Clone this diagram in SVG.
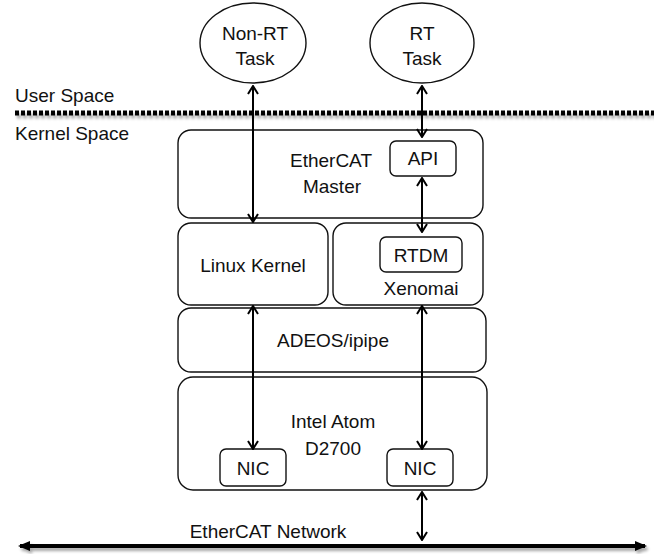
<svg xmlns="http://www.w3.org/2000/svg" width="654" height="554" viewBox="0 0 654 554">
<style>
.box{fill:#fff;stroke:#111;stroke-width:1.4}
.t{font-family:"Liberation Sans",Arial,sans-serif;font-size:19px;fill:#111;text-anchor:middle}
.tl{font-family:"Liberation Sans",Arial,sans-serif;font-size:19px;fill:#111}
.ar{stroke:#000;stroke-width:2;fill:none;marker-start:url(#oa);marker-end:url(#oa)}
</style>
<defs>
<marker id="oa" viewBox="0 0 12 12" refX="11" refY="6" markerWidth="12" markerHeight="12" markerUnits="userSpaceOnUse" orient="auto-start-reverse">
<path d="M3,1 L11,6 L3,11" fill="none" stroke="#000" stroke-width="2"/>
</marker>
<marker id="fa" viewBox="0 0 12 12" refX="10" refY="6" markerWidth="12" markerHeight="12" markerUnits="userSpaceOnUse" orient="auto-start-reverse">
<path d="M0,1 L12,6 L0,11 Z" fill="#000"/>
</marker>
<filter id="sh1" filterUnits="userSpaceOnUse" x="0" y="100" width="654" height="30">
<feGaussianBlur in="SourceAlpha" stdDeviation="1.5"/>
<feOffset dx="1.5" dy="2.5"/>
<feComponentTransfer><feFuncA type="linear" slope="0.35"/></feComponentTransfer>
<feMerge><feMergeNode/><feMergeNode in="SourceGraphic"/></feMerge>
</filter>
<filter id="sh2" filterUnits="userSpaceOnUse" x="0" y="530" width="654" height="24">
<feGaussianBlur in="SourceAlpha" stdDeviation="1.5"/>
<feOffset dx="1.5" dy="2.5"/>
<feComponentTransfer><feFuncA type="linear" slope="0.35"/></feComponentTransfer>
<feMerge><feMergeNode/><feMergeNode in="SourceGraphic"/></feMerge>
</filter>
</defs>

<g id="labels">
<text class="tl" x="15" y="102">User Space</text>
<text class="tl" x="15" y="140">Kernel Space</text>
<line x1="15" y1="113" x2="654" y2="113" stroke="#000" stroke-width="5" stroke-dasharray="4 2" filter="url(#sh1)"/>
<text class="t" x="268" y="538">EtherCAT Network</text>
</g>

<g id="non-rt-task">
<ellipse class="box" cx="253" cy="43" rx="53" ry="40"/>
<text class="t" x="255" y="40">Non-RT</text>
<text class="t" x="255" y="65">Task</text>
</g>
<g id="rt-task">
<ellipse class="box" cx="422" cy="43" rx="52" ry="40"/>
<text class="t" x="422" y="40">RT</text>
<text class="t" x="422" y="65">Task</text>
</g>

<g id="ethercat-master">
<rect class="box" x="178" y="130" width="305" height="88" rx="13"/>
<text class="t" x="331" y="167">EtherCAT</text>
<text class="t" x="332" y="193">Master</text>
</g>
<g id="api">
<rect class="box" x="390" y="141" width="66" height="35" rx="6"/>
<text class="t" x="423" y="165">API</text>
</g>

<g id="linux-kernel">
<rect class="box" x="178" y="223" width="150" height="82" rx="13"/>
<text class="t" x="253" y="272">Linux Kernel</text>
</g>
<g id="xenomai">
<rect class="box" x="333" y="223" width="150" height="82" rx="13"/>
<text class="t" x="421" y="295">Xenomai</text>
</g>
<g id="rtdm">
<rect class="box" x="380" y="237" width="82" height="35" rx="6"/>
<text class="t" x="421" y="262">RTDM</text>
</g>

<g id="adeos">
<rect class="box" x="178" y="308" width="308" height="64" rx="13"/>
<text class="t" x="333" y="347">ADEOS/ipipe</text>
</g>

<g id="intel-atom">
<rect class="box" x="178" y="377" width="309" height="113" rx="15"/>
<text class="t" x="333" y="428">Intel Atom</text>
<text class="t" x="333" y="455">D2700</text>
</g>
<g id="nic-left">
<rect class="box" x="220" y="449" width="66" height="37" rx="6"/>
<text class="t" x="253" y="475">NIC</text>
</g>
<g id="nic-right">
<rect class="box" x="387" y="449" width="66" height="37" rx="6"/>
<text class="t" x="420" y="475">NIC</text>
</g>

<g id="connectors">
<line class="ar" x1="253" y1="86" x2="253" y2="222"/>
<line class="ar" x1="422" y1="86" x2="422" y2="137"/>
<line class="ar" x1="422" y1="178" x2="422" y2="232"/>
<line class="ar" x1="253" y1="306" x2="253" y2="449"/>
<line class="ar" x1="422" y1="306" x2="422" y2="449"/>
<line class="ar" x1="422" y1="492" x2="422" y2="540"/>
<line x1="20" y1="546" x2="645" y2="546" stroke="#000" stroke-width="4" marker-start="url(#fa)" marker-end="url(#fa)" filter="url(#sh2)"/>
</g>
</svg>
